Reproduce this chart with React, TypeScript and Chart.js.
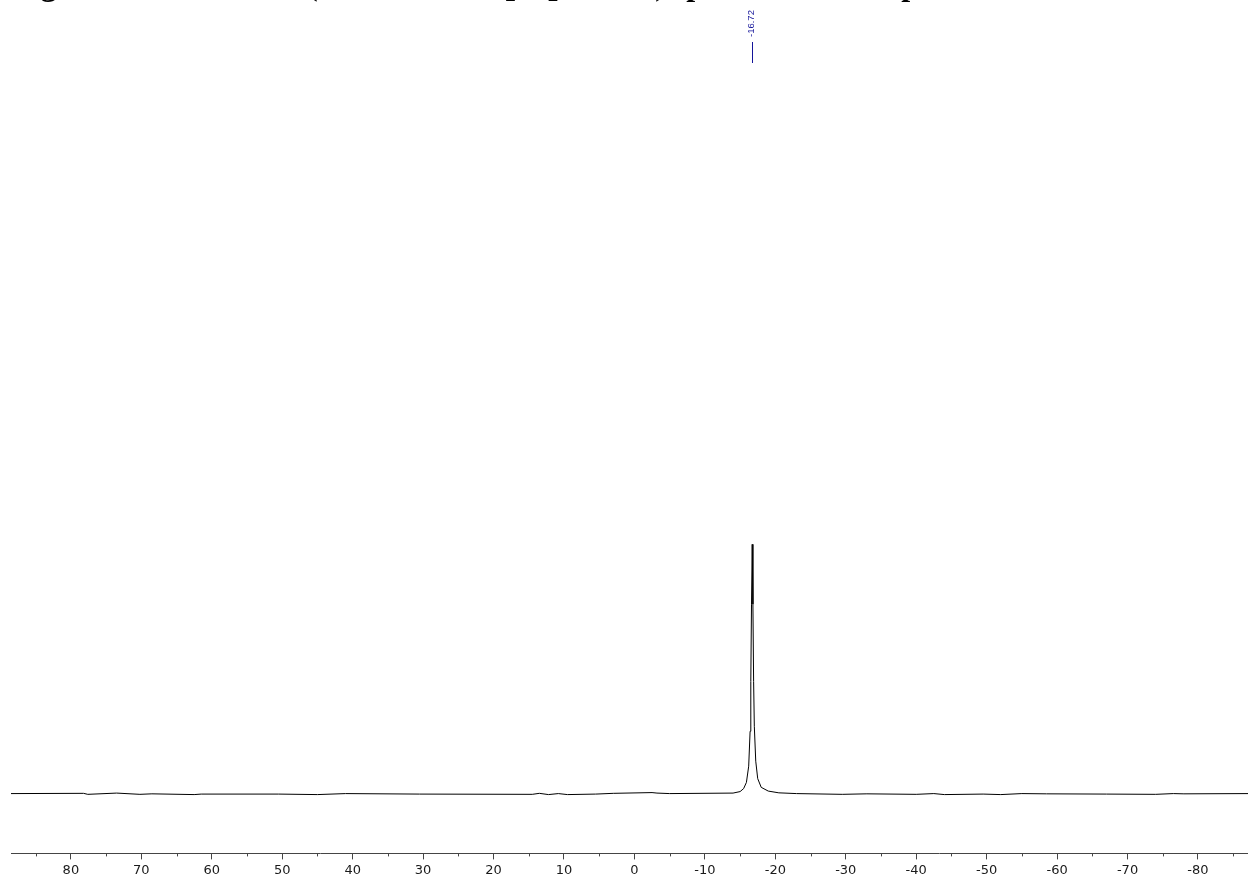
import React, { useEffect, useRef } from "react";
import { Chart, registerables } from "chart.js";

Chart.register(...registerables);

// Chemical shift (ppm) and relative intensity
const shiftPpm: number[] = [
  88.5, 78.2, 77.6, 73.5, 70.2, 68.5, 62.5, 61.5, 50.5, 45, 41, 30.5, 14.5, 13.5,
  12.2, 10.8, 9.5, 5.5, 3, -2.5, -3.2, -5, -14, -15.0, -15.5, -15.9, -16.22,
  -16.42, -16.52, -16.62, -16.72, -16.82, -16.92, -17.02, -17.22, -17.5, -18.0,
  -19.0, -20.5, -23, -29.5, -33, -40, -42.5, -44, -49.5, -52, -55, -58.5, -67, -74,
  -76.5, -78, -87.1,
];
const intensity: number[] = [
  0, 0.001, -0.003, 0.002, -0.003, -0.001, -0.004, -0.002, -0.002, -0.004, 0,
  -0.002, -0.003, 0.001, -0.004, 0, -0.004, -0.002, 0.001, 0.004, 0.002, 0, 0.002,
  0.008, 0.02, 0.045, 0.11, 0.25, 0.45, 0.76, 1.0, 0.76, 0.45, 0.27, 0.13, 0.06,
  0.025, 0.01, 0.003, 0, -0.003, -0.001, -0.003, 0, -0.004, -0.002, -0.004, 0,
  -0.001, -0.002, -0.003, 0, -0.001, 0,
];

const majorTicks: number[] = [80, 70, 60, 50, 40, 30, 20, 10, 0, -10, -20, -30, -40, -50, -60, -70, -80];
const minorTicks: number[] = [85, 75, 65, 55, 45, 35, 25, 15, 5, -5, -15, -25, -35, -45, -55, -65, -75, -85];
const peakLabels: number[] = [-16.72];

const titleParts = {
  lead: "Figure S12. ",
  iso: "31",
  nucleus: "P NMR (162 MHz, CD",
  sub1: "2",
  mid: "Cl",
  sub2: "2",
  tail: ", 298 K) spectrum of compound 2",
};

const AXIS_COLOR = "#454545";
const PEAK_COLOR = "#14149a";

const minorTickPlugin = {
  id: "minorTicks",
  afterDraw(chart: any) {
    const sx = chart.scales.x;
    const ctx = chart.ctx;
    ctx.save();
    ctx.strokeStyle = AXIS_COLOR;
    ctx.lineWidth = 1;
    for (const v of minorTicks) {
      const px = Math.round(sx.getPixelForValue(v)) + 0.5;
      if (px < sx.left || px > sx.right) continue;
      ctx.beginPath();
      ctx.moveTo(px, sx.top);
      ctx.lineTo(px, sx.top + 3);
      ctx.stroke();
    }
    ctx.restore();
  },
};

const peakLabelPlugin = {
  id: "peakLabels",
  afterDraw(chart: any) {
    const sx = chart.scales.x;
    const ctx = chart.ctx;
    ctx.save();
    ctx.fillStyle = PEAK_COLOR;
    ctx.strokeStyle = PEAK_COLOR;
    ctx.lineWidth = 1;
    ctx.font = "9.5px 'Liberation Sans', Arial, sans-serif";
    for (const p of peakLabels) {
      const px = Math.round(sx.getPixelForValue(p)) + 0.5;
      ctx.beginPath();
      ctx.moveTo(px, 42);
      ctx.lineTo(px, 63);
      ctx.stroke();
      ctx.save();
      ctx.translate(px - 1, 37);
      ctx.rotate(-Math.PI / 2);
      ctx.textAlign = "left";
      ctx.textBaseline = "middle";
      ctx.fillText(p.toFixed(2), 0, 0);
      ctx.restore();
    }
    ctx.restore();
  },
};

export default function App() {
  const canvasRef = useRef<HTMLCanvasElement | null>(null);

  useEffect(() => {
    if (!canvasRef.current) return;
    const points = shiftPpm.map((x, i) => ({ x, y: intensity[i] }));
    const chart = new Chart(canvasRef.current, {
      type: "line",
      data: {
        datasets: [
          {
            data: points,
            borderColor: "#000000",
            borderWidth: 1,
            pointRadius: 0,
            tension: 0,
            fill: false,
          },
        ],
      },
      options: {
        animation: false,
        responsive: false,
        maintainAspectRatio: false,
        layout: { padding: { left: 11, right: 0, top: 0, bottom: 0 } },
        plugins: {
          legend: { display: false },
          tooltip: { enabled: false },
          title: { display: false },
        },
        scales: {
          x: {
            type: "linear",
            reverse: true,
            min: -87.1,
            max: 88.5,
            afterBuildTicks: (scale: any) => {
              scale.ticks = majorTicks.map((v) => ({ value: v }));
            },
            ticks: {
              color: "#1a1a1a",
              padding: 3,
              maxRotation: 0,
              autoSkip: false,
              font: { family: "'DejaVu Sans', Verdana, sans-serif", size: 13 },
              callback: (v: any) => String(v),
            },
            grid: {
              display: true,
              drawOnChartArea: false,
              drawTicks: true,
              tickLength: 6,
              color: AXIS_COLOR,
            },
            border: { display: true, color: AXIS_COLOR, width: 1 },
          },
          y: {
            type: "linear",
            display: false,
            min: -0.24,
            max: 3.184,
          },
        },
      },
      plugins: [minorTickPlugin, peakLabelPlugin],
    });
    return () => chart.destroy();
  }, []);

  return (
    <div
      style={{
        position: "fixed",
        left: 0,
        top: 0,
        width: 1248,
        height: 878,
        overflow: "hidden",
        background: "#ffffff",
      }}
    >
      <canvas ref={canvasRef} width={1248} height={881} style={{ position: "absolute", left: 0, top: 0 }} />
      <div
        style={{
          position: "absolute",
          left: 12,
          top: -32,
          fontFamily: "'Liberation Serif', 'Times New Roman', serif",
          fontWeight: "bold",
          fontSize: 32,
          lineHeight: "32px",
          whiteSpace: "nowrap",
          color: "#000",
        }}
      >
        {titleParts.lead}
        <span style={{ position: "relative", top: -12, fontSize: 21 }}>{titleParts.iso}</span>
        {titleParts.nucleus}
        <span style={{ position: "relative", top: 6, fontSize: 21 }}>{titleParts.sub1}</span>
        {titleParts.mid}
        <span style={{ position: "relative", top: 6, fontSize: 21 }}>{titleParts.sub2}</span>
        {titleParts.tail}
      </div>
    </div>
  );
}
